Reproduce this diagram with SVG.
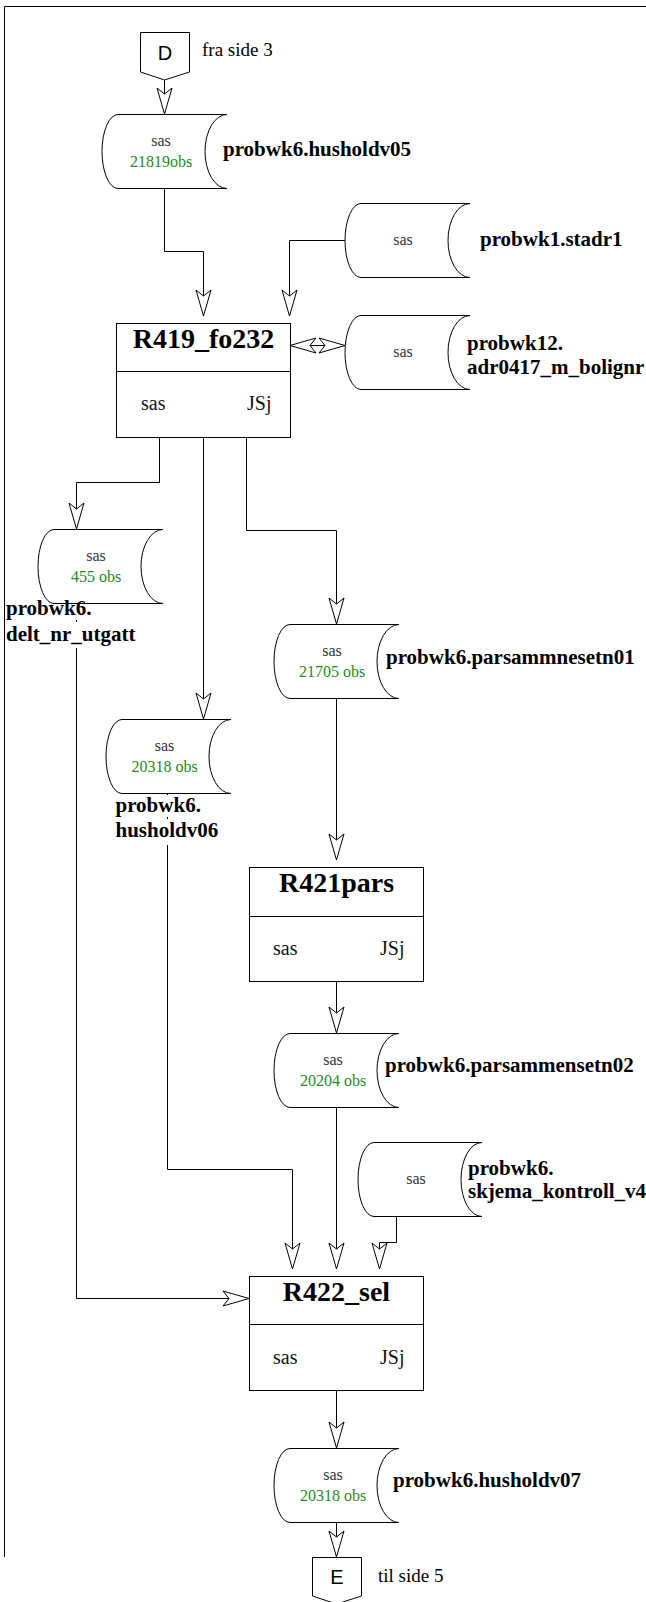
<svg xmlns="http://www.w3.org/2000/svg" width="646" height="1602" viewBox="0 0 646 1602">
<style>
.frame{fill:none;stroke:#000;stroke-width:1}
.shape{fill:#fff;stroke:#000;stroke-width:1}
.conn{fill:none;stroke:#000;stroke-width:1}
.small{font-family:"Liberation Serif","Times New Roman",serif;font-size:16px;fill:#333;text-anchor:middle}
.obs{font-family:"Liberation Serif","Times New Roman",serif;font-size:16px;fill:#228b22;text-anchor:middle}
.lbl{font-family:"Liberation Serif","Times New Roman",serif;font-size:21px;font-weight:bold;fill:#000}
.title{font-family:"Liberation Serif","Times New Roman",serif;font-size:28px;font-weight:bold;fill:#000;text-anchor:middle}
.box{font-family:"Liberation Serif","Times New Roman",serif;font-size:20px;fill:#111}
.off{font-family:"Liberation Sans",Arial,sans-serif;font-size:20px;fill:#000;text-anchor:middle}
.note{font-family:"Liberation Serif","Times New Roman",serif;font-size:19px;fill:#000}
.bg{fill:#fff;stroke:none}
</style>
<defs>
<marker id="arr" viewBox="-28 -9 30 18" refX="0" refY="0" markerWidth="30" markerHeight="18" markerUnits="userSpaceOnUse" orient="auto-start-reverse" overflow="visible">
<path d="M0,0 L-26,-7.5 L-20,0 L-26,7.5 Z" fill="#fff" stroke="#000" stroke-width="1"/>
</marker>
</defs>
<rect x="0" y="0" width="646" height="1602" fill="#fff"/>
<path class="frame" d="M4.5,1557 V6.5 H646"/>

<g id="connectors">
<path class="conn" d="M164.5,80 V114" marker-end="url(#arr)"/>
<path class="conn" d="M164.5,188 V251.5 H203.5 V316" marker-end="url(#arr)"/>
<path class="conn" d="M345,240.5 H289.5 V316" marker-end="url(#arr)"/>
<path class="conn" d="M290,345.5 H345" marker-start="url(#arr)" marker-end="url(#arr)"/>
<path class="conn" d="M159.5,437 V482.5 H76.5 V529" marker-end="url(#arr)"/>
<path class="conn" d="M203.5,437 V719" marker-end="url(#arr)"/>
<path class="conn" d="M246.5,437 V530.5 H336.5 V624" marker-end="url(#arr)"/>
<path class="conn" d="M336.5,698 V860" marker-end="url(#arr)"/>
<path class="conn" d="M336.5,982 V1033" marker-end="url(#arr)"/>
<path class="conn" d="M336.5,1107 V1269" marker-end="url(#arr)"/>
<path class="conn" d="M396.5,1216 V1242.5 H379.5 V1269" marker-end="url(#arr)"/>
<path class="conn" d="M167.5,793 V1169.5 H292.5 V1269" marker-end="url(#arr)"/>
<path class="conn" d="M76.5,603 V1298.5 H249" marker-end="url(#arr)"/>
<path class="conn" d="M336.5,1390 V1448" marker-end="url(#arr)"/>
<path class="conn" d="M336.5,1522 V1557" marker-end="url(#arr)"/>
</g>

<g id="offpage-D">
<path class="shape" d="M140.5,32.5 H189.5 V72 L164.5,80 L140.5,72 Z"/>
<text class="off" x="165" y="60">D</text>
<text class="note" x="202" y="56">fra side 3</text>
</g>

<g id="ds-husholdv05">
<path class="shape" d="M118,114.5 H227 A22,37 0 0 0 227,188.5 H118 A16,37 0 0 1 118,114.5 Z"/>
<text class="small" x="161" y="146">sas</text>
<text class="obs" x="161" y="167">21819obs</text>
<text class="lbl" x="223" y="156">probwk6.husholdv05</text>
</g>

<g id="ds-stadr1">
<path class="shape" d="M361,203.5 H470 A22,37 0 0 0 470,277.5 H361 A16,37 0 0 1 361,203.5 Z"/>
<text class="small" x="403" y="245">sas</text>
<text class="lbl" x="480" y="246">probwk1.stadr1</text>
</g>

<g id="ds-adr0417">
<path class="shape" d="M361,315.5 H470 A22,37 0 0 0 470,389.5 H361 A16,37 0 0 1 361,315.5 Z"/>
<text class="small" x="403" y="357">sas</text>
<text class="lbl" x="467" y="350">probwk12.</text>
<text class="lbl" x="467" y="374">adr0417_m_bolignr</text>
</g>

<g id="proc-R419">
<rect class="shape" x="116.5" y="323.5" width="174" height="114"/>
<line class="conn" x1="116.5" y1="371.5" x2="290.5" y2="371.5"/>
<text class="title" x="203.5" y="348">R419_fo232</text>
<text class="box" x="141" y="410">sas</text>
<text class="box" x="247" y="410">JSj</text>
</g>

<g id="ds-delt">
<path class="shape" d="M54,529.5 H163 A22,37 0 0 0 163,603.5 H54 A16,37 0 0 1 54,529.5 Z"/>
<text class="small" x="96" y="561">sas</text>
<text class="obs" x="96" y="582">455 obs</text>
<rect class="bg" x="5" y="604" width="90" height="16"/>
<rect class="bg" x="5" y="622" width="134" height="26"/>
<text class="lbl" x="6" y="615">probwk6.</text>
<text class="lbl" x="6" y="641">delt_nr_utgatt</text>
</g>

<g id="ds-husholdv06">
<path class="shape" d="M122,719.5 H231 A22,37 0 0 0 231,793.5 H122 A16,37 0 0 1 122,719.5 Z"/>
<text class="small" x="164.5" y="751">sas</text>
<text class="obs" x="164.5" y="772">20318 obs</text>
<rect class="bg" x="114" y="795" width="90" height="22"/>
<rect class="bg" x="114" y="819" width="106" height="26"/>
<text class="lbl" x="115.5" y="812">probwk6.</text>
<text class="lbl" x="115.5" y="837">husholdv06</text>
</g>

<g id="ds-parsammnesetn01">
<path class="shape" d="M290,624.5 H399 A22,37 0 0 0 399,698.5 H290 A16,37 0 0 1 290,624.5 Z"/>
<text class="small" x="332" y="656">sas</text>
<text class="obs" x="332" y="677">21705 obs</text>
<text class="lbl" x="386" y="664">probwk6.parsammnesetn01</text>
</g>

<g id="proc-R421">
<rect class="shape" x="249.5" y="867.5" width="174" height="114"/>
<line class="conn" x1="249.5" y1="916.5" x2="423.5" y2="916.5"/>
<text class="title" x="336.5" y="892">R421pars</text>
<text class="box" x="273" y="955">sas</text>
<text class="box" x="380" y="955">JSj</text>
</g>

<g id="ds-parsammensetn02">
<path class="shape" d="M290,1033.5 H399 A22,37 0 0 0 399,1107.5 H290 A16,37 0 0 1 290,1033.5 Z"/>
<text class="small" x="333" y="1065">sas</text>
<text class="obs" x="333" y="1086">20204 obs</text>
<text class="lbl" x="385" y="1072">probwk6.parsammensetn02</text>
</g>

<g id="ds-skjema">
<path class="shape" d="M374,1142.5 H482 A21,37 0 0 0 482,1216.5 H374 A16,37 0 0 1 374,1142.5 Z"/>
<text class="small" x="416" y="1184">sas</text>
<text class="lbl" x="468" y="1175">probwk6.</text>
<text class="lbl" x="468" y="1198">skjema_kontroll_v4</text>
</g>

<g id="proc-R422">
<rect class="shape" x="249.5" y="1276.5" width="174" height="114"/>
<line class="conn" x1="249.5" y1="1324.5" x2="423.5" y2="1324.5"/>
<text class="title" x="336.5" y="1301">R422_sel</text>
<text class="box" x="273" y="1364">sas</text>
<text class="box" x="380" y="1364">JSj</text>
</g>

<g id="ds-husholdv07">
<path class="shape" d="M290,1448.5 H399 A22,37 0 0 0 399,1522.5 H290 A16,37 0 0 1 290,1448.5 Z"/>
<text class="small" x="333" y="1480">sas</text>
<text class="obs" x="333" y="1501">20318 obs</text>
<text class="lbl" x="393" y="1487">probwk6.husholdv07</text>
</g>

<g id="offpage-E">
<path class="shape" d="M312.5,1557.5 H361.5 V1596 L336.5,1604 L312.5,1596 Z"/>
<text class="off" x="337" y="1584">E</text>
<text class="note" x="378" y="1582">til side 5</text>
</g>
</svg>
